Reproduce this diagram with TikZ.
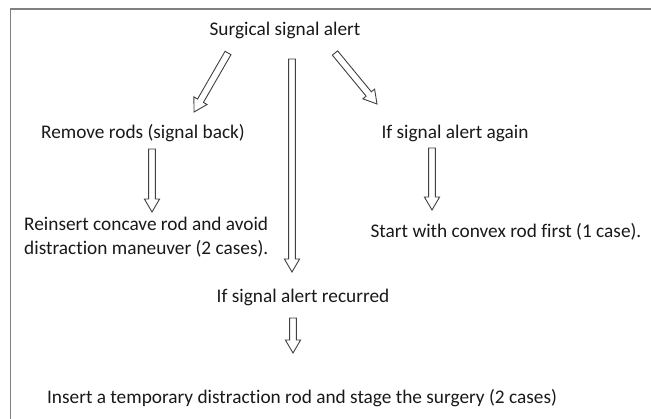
\documentclass[tikz,border=0pt]{standalone}
\usepackage{fontspec}
\setmainfont{Carlito}[RawFeature={-liga}]
\usetikzlibrary{calc}
\tikzset{
  lbl/.style={inner sep=0pt, font=\fontsize{19.3}{24.5}\selectfont, text=black!90},
  harrow/.style={draw=black!75, fill=white, line width=0.9pt, line join=miter},
  frame/.style={draw=black!50, line width=1.6pt}
}
\newcommand\hollowarrow[2]{%
  \coordinate (hb-#1-#2) at ($(#2)!13pt!(#1)$);
  \path[harrow] ($(#1)!3.4pt!90:(#2)$) -- ($(hb-#1-#2)!3.4pt!90:(#2)$) -- ($(hb-#1-#2)!7.6pt!90:(#2)$) -- (#2)
    -- ($(hb-#1-#2)!7.6pt!-90:(#2)$) -- ($(hb-#1-#2)!3.4pt!-90:(#2)$) -- ($(#1)!3.4pt!-90:(#2)$) -- cycle;%
}
\begin{document}
\begin{tikzpicture}[x=1pt,y=-1pt]
\useasboundingbox (0,0) rectangle (651,419);
\draw[frame] (10.5,430) -- (10.5,9) -- (660,9);

\node[lbl] (top) at (285,30) {Surgical signal alert};
\node[lbl] (rem) at (143,133) {Remove rods (signal back)};
\node[lbl] (again) at (455,133) {If signal alert again};
\node[lbl, anchor=west, align=left] (rein) at (24,237) {Reinsert concave rod and avoid\\distraction maneuver (2 cases).};
\node[lbl] (start) at (506,232) {Start with convex rod first (1 case).};
\node[lbl] (recur) at (303,297) {If signal alert recurred};
\node[lbl] (ins) at (302,398) {Insert a temporary distraction rod and stage the surgery (2 cases)};

\coordinate (l0) at (228,53);  \coordinate (l1) at (194,112);
\coordinate (m0) at (292,59);  \coordinate (m1) at (292,272);
\coordinate (r0) at (335,53);  \coordinate (r1) at (377,104);
\coordinate (lv0) at (152,149); \coordinate (lv1) at (152,212);
\coordinate (rv0) at (432,148); \coordinate (rv1) at (432,210);
\coordinate (b0) at (293,318); \coordinate (b1) at (293,353);

\hollowarrow{l0}{l1}
\hollowarrow{m0}{m1}
\hollowarrow{r0}{r1}
\hollowarrow{lv0}{lv1}
\hollowarrow{rv0}{rv1}
\hollowarrow{b0}{b1}
\end{tikzpicture}
\end{document}
